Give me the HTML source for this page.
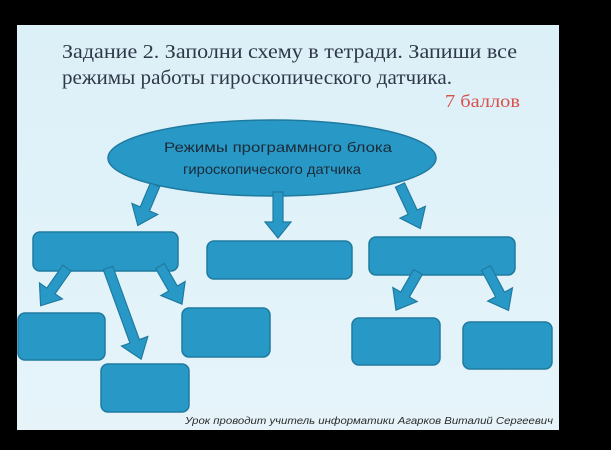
<!DOCTYPE html>
<html><head><meta charset="utf-8"><style>
html,body{margin:0;padding:0;background:#000;width:611px;height:450px;overflow:hidden}
</style></head><body>
<svg width="611" height="450" xmlns="http://www.w3.org/2000/svg">
<defs>
<linearGradient id="bg" x1="0" y1="0" x2="0" y2="1">
<stop offset="0" stop-color="#dcf0f8"/><stop offset="1" stop-color="#e6f4fa"/>
</linearGradient>
</defs>
<rect x="0" y="0" width="611" height="450" fill="#000"/>
<rect x="17" y="25" width="542" height="405" fill="url(#bg)"/>
<g font-family="Liberation Serif, serif" fill="#2e3848" font-size="20">
<text x="62" y="58" textLength="455" lengthAdjust="spacingAndGlyphs">Задание 2. Заполни  схему  в  тетради. Запиши  все</text>
<text x="62" y="84" textLength="390" lengthAdjust="spacingAndGlyphs">режимы работы гироскопического  датчика.</text>
</g>
<text x="445" y="107" font-family="Liberation Serif, serif" font-size="18" fill="#d9504a" textLength="75" lengthAdjust="spacingAndGlyphs">7 баллов</text>
<g fill="#2899c6" stroke="#1f7aa0" stroke-width="1.5">
<ellipse cx="272" cy="158" rx="164" ry="38"/>
<rect x="33" y="232" width="145" height="39" rx="7"/>
<rect x="207" y="241" width="145" height="38" rx="7"/>
<rect x="369" y="237" width="146" height="38" rx="7"/>
<rect x="18" y="313" width="87" height="47" rx="7"/>
<rect x="101" y="364" width="88" height="48" rx="7"/>
<rect x="182" y="308" width="88" height="49" rx="7"/>
<rect x="352" y="318" width="88" height="47" rx="7"/>
<rect x="463" y="322" width="89" height="47" rx="7"/>
</g>
<g fill="#2899c6" stroke="#1f7aa0" stroke-width="1.2">
<g transform="translate(155,185) rotate(23)"><polygon points="-5,0 5,0 5,26 14,26 0,44 -14,26 -5,26"/></g>
<g transform="translate(278,192) rotate(0)"><polygon points="-5,0 5,0 5,30 13,30 0,46 -13,30 -5,30"/></g>
<g transform="translate(400,185) rotate(-25)"><polygon points="-5,0 5,0 5,30 14,30 0,48 -14,30 -5,30"/></g>
<g transform="translate(67,268) rotate(35)"><polygon points="-5,0 5,0 5,28 14,28 0,46 -14,28 -5,28"/></g>
<g transform="translate(108,268) rotate(-20)"><polygon points="-5,0 5,0 5,78 14,78 0,97 -14,78 -5,78"/></g>
<g transform="translate(160,266) rotate(-30)"><polygon points="-5,0 5,0 5,26 14,26 0,44 -14,26 -5,26"/></g>
<g transform="translate(418,272) rotate(30)"><polygon points="-5,0 5,0 5,26 14,26 0,44 -14,26 -5,26"/></g>
<g transform="translate(486,268) rotate(-28)"><polygon points="-5,0 5,0 5,30 14,30 0,48 -14,30 -5,30"/></g>
</g>
<g font-family="Liberation Sans, sans-serif" font-size="14" fill="#1c2a38">
<text x="164" y="152" textLength="228" lengthAdjust="spacingAndGlyphs">Режимы программного блока</text>
<text x="183" y="174" textLength="178" lengthAdjust="spacingAndGlyphs">гироскопического датчика</text>
</g>
<text x="185" y="424" font-family="Liberation Sans, sans-serif" font-style="italic" font-size="10.5" fill="#2a2a2a" textLength="368" lengthAdjust="spacingAndGlyphs">Урок проводит учитель информатики  Агарков Виталий Сергеевич</text>
</svg>
</body></html>
